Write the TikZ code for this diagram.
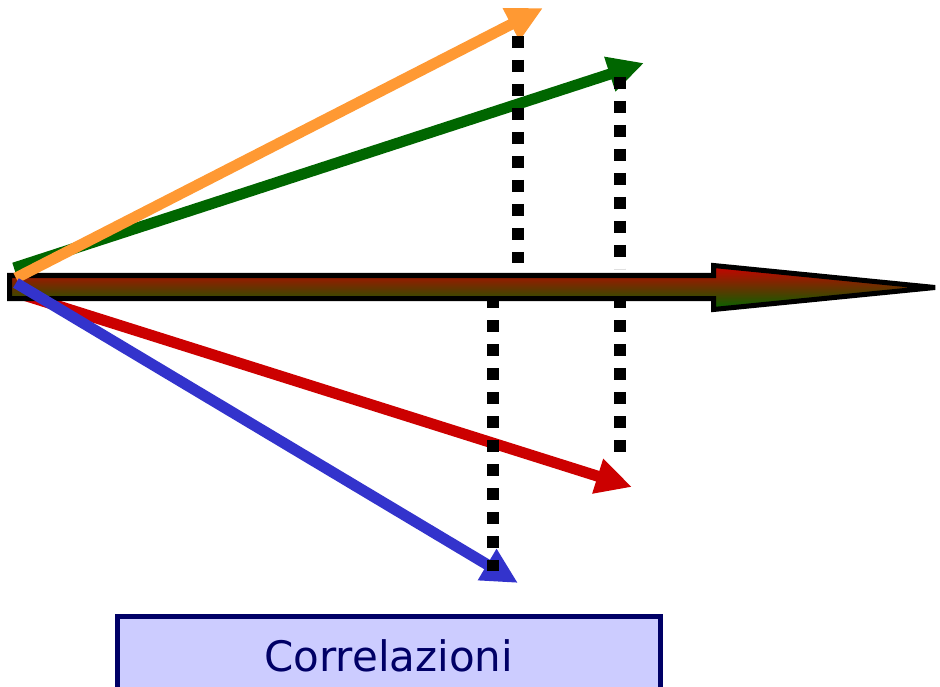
\documentclass[tikz,border=0pt]{standalone}
\usepackage{fontspec}
\newfontfamily\corrfont{DejaVu Sans}
\usetikzlibrary{arrows.meta}
\definecolor{vorange}{HTML}{FF9933}
\definecolor{vgreen}{HTML}{006600}
\definecolor{vred}{HTML}{CC0000}
\definecolor{vblue}{HTML}{3333CC}
\definecolor{boxfill}{HTML}{CCCCFF}
\definecolor{navy}{HTML}{000066}
\begin{document}
\begin{tikzpicture}[
    x=1pt, y=-1pt,
    vec/.style={line width=11pt, -{Triangle[length=36pt, width=34pt]}},
    proj/.style={line width=12pt, dash pattern=on 12pt off 12pt},
    bigarrow/.style={draw=black, line width=5pt, top color=vred, bottom color=vgreen},
    corrbox/.style={draw=navy, fill=boxfill, line width=5pt, minimum width=543.5pt, minimum height=79pt, inner sep=0pt, text=navy, font=\corrfont\fontsize{42}{50}\selectfont},
  ]
    \useasboundingbox (0,0) rectangle (940,687);

    % Vector ends
    \coordinate (og) at (14,268);
    \coordinate (gtip) at (644,63);
    \coordinate (or) at (14,292);
    \coordinate (rtip) at (632,487);
    \coordinate (oo) at (16,278);
    \coordinate (otip) at (543,8);
    \coordinate (ob) at (16,283);
    \coordinate (btip) at (518,583);

    % Vectors behind the axis
    \draw[vec, vgreen] (og) -- (gtip);
    \draw[vec, vred] (or) -- (rtip);

    % Axis arrow
    \path[bigarrow] (9.5,275.5) -- (713.5,275.5) -- (713.5,265.5) -- (935,287.5)
      -- (713.5,309.5) -- (713.5,298.5) -- (9.5,298.5) -- cycle;

    % Vectors in front of the axis
    \draw[vec, vorange] (oo) -- (otip);
    \draw[vec, vblue] (ob) -- (btip);

    % Projections
    \coordinate (p1a) at (518,36);
    \coordinate (p1b) at (518,263);
    \coordinate (p2a) at (620,77);
    \coordinate (p2b) at (620,269);
    \coordinate (p3a) at (620,296);
    \coordinate (p3b) at (620,452);
    \coordinate (p4a) at (493,296);
    \coordinate (p4b) at (493,571);
    \draw[proj] (p1a) -- (p1b);
    \draw[proj] (p2a) -- (p2b);
    \draw[proj] (p3a) -- (p3b);
    \draw[proj] (p4a) -- (p4b);

    % Label
    \node[corrbox] (corr) at (388.75,656) {Correlazioni};
  \end{tikzpicture}
\end{document}
